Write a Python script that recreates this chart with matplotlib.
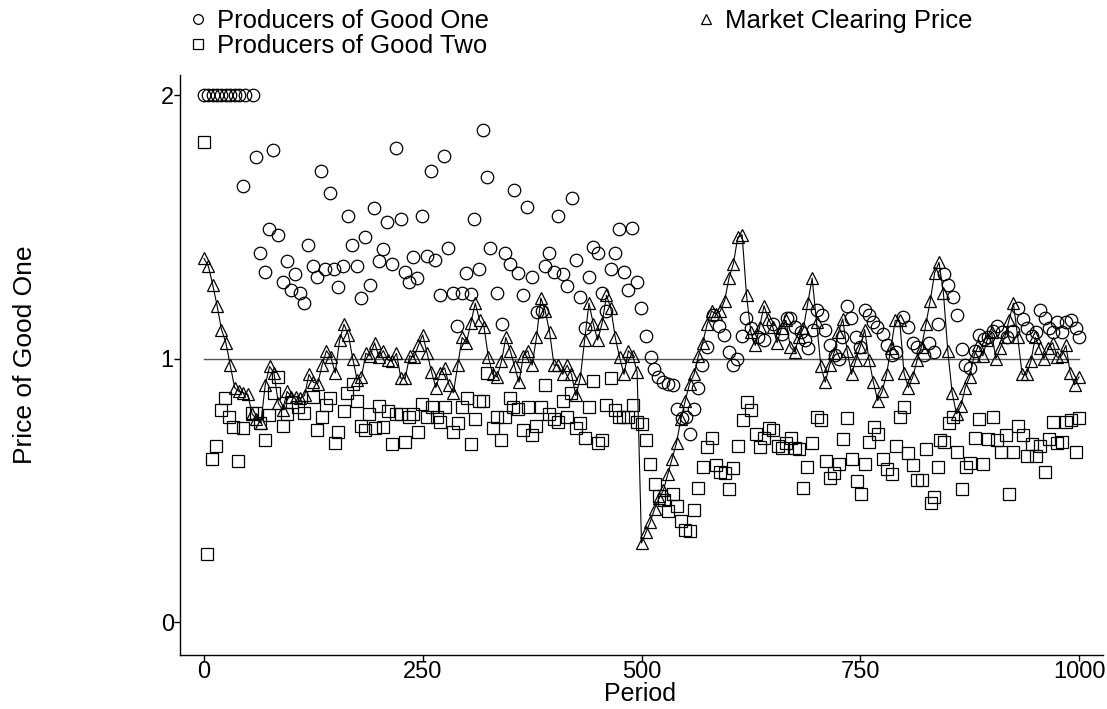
import matplotlib
matplotlib.use("Agg")
import matplotlib.pyplot as plt
from matplotlib.lines import Line2D

plt.rcParams['font.family'] = ['Liberation Sans', 'DejaVu Sans']

# market clearing price, recorded every 5 periods (0..1000)
market_period = list(range(0, 1001, 5))
market_price = [
    1.38, 1.35, 1.28, 1.20, 1.11, 1.06, 0.975, 0.89, 0.875, 0.87,
    0.865, 0.79, 0.77, 0.755, 0.90, 0.97, 0.945, 0.83, 0.805, 0.875,
    0.855, 0.855, 0.85, 0.86, 0.94, 0.91, 0.905, 0.975, 1.03, 1.005,
    0.945, 1.07, 1.13, 1.09, 1.00, 0.92, 0.93, 1.02, 1.01, 1.06,
    1.005, 1.03, 0.995, 0.99, 1.02, 0.925, 0.925, 1.01, 1.005, 1.05,
    1.09, 1.02, 0.95, 0.89, 0.945, 0.965, 0.90, 0.87, 0.975, 1.08,
    1.06, 1.135, 1.21, 1.145, 1.12, 1.005, 0.94, 0.93, 0.99, 1.08,
    1.03, 0.97, 0.91, 1.01, 1.03, 0.975, 1.08, 1.23, 1.18, 1.10,
    0.975, 0.975, 0.94, 0.975, 0.94, 0.86, 0.925, 1.07, 1.21, 1.13,
    1.07, 1.135, 1.24, 1.19, 1.08, 1.005, 0.94, 1.03, 1.01, 0.95,
    0.30, 0.34, 0.38, 0.43, 0.47, 0.50, 0.56, 0.62, 0.68, 0.77,
    0.84, 0.905, 0.94, 1.01, 1.06, 1.13, 1.18, 1.17, 1.18, 1.22,
    1.305, 1.36, 1.46, 1.47, 1.24, 1.10, 1.05, 1.12, 1.20, 1.15,
    1.12, 1.06, 1.115, 1.145, 1.045, 1.025, 1.08, 1.115, 1.21, 1.305,
    1.14, 0.97, 0.91, 0.975, 1.02, 1.10, 1.15, 1.03, 0.94, 0.995,
    1.045, 1.11, 0.995, 0.91, 0.84, 0.875, 0.94, 1.04, 1.145, 1.145,
    0.945, 0.89, 0.93, 0.995, 1.045, 1.13, 1.22, 1.325, 1.365, 1.25,
    1.03, 0.87, 0.79, 0.82, 0.89, 0.93, 1.01, 1.05, 1.01, 1.07,
    1.10, 1.00, 1.04, 1.08, 1.145, 1.21, 1.08, 0.94, 0.94, 0.99,
    1.08, 1.04, 1.00, 1.04, 1.06, 1.005, 1.01, 1.05, 0.945, 0.90,
    0.93,
]

# (period, price) for producers of good one
good_one = [
    (0, 2.0), (5, 2.0), (10, 2.0), (15, 2.0), (20, 2.0), (25, 2.0), (30, 2.0),
    (35, 2.0), (40, 2.0), (47, 2.0), (56, 2.0),
    (45, 1.655), (59, 1.765), (64, 1.40), (70, 1.33), (74, 1.49), (79, 1.79),
    (85, 1.47), (90, 1.29), (95, 1.37), (99, 1.26), (104, 1.32), (110, 1.25),
    (114, 1.21), (119, 1.43), (125, 1.35), (129, 1.31), (134, 1.71), (138, 1.34),
    (144, 1.63), (149, 1.34), (153, 1.27), (159, 1.35), (165, 1.54), (169, 1.43),
    (175, 1.35), (179, 1.23), (184, 1.46), (190, 1.28), (194, 1.57), (200, 1.37),
    (205, 1.415), (209, 1.52), (215, 1.36), (219, 1.80), (225, 1.53), (230, 1.33),
    (234, 1.29), (239, 1.385), (243, 1.305), (249, 1.54), (255, 1.39), (259, 1.71),
    (264, 1.375), (270, 1.24), (274, 1.77), (279, 1.42), (285, 1.25), (289, 1.125),
    (295, 1.25), (299, 1.325), (305, 1.245), (309, 1.53), (314, 1.34), (319, 1.867),
    (323, 1.69), (327, 1.42), (335, 1.25), (341, 1.13), (344, 1.40), (350, 1.36),
    (354, 1.64), (359, 1.325), (365, 1.24), (369, 1.575), (375, 1.31), (381, 1.175),
    (386, 1.18), (390, 1.35), (394, 1.40), (400, 1.33), (405, 1.54), (410, 1.32),
    (415, 1.275), (421, 1.61), (425, 1.375), (430, 1.235), (435, 1.115), (440, 1.31),
    (445, 1.425), (450, 1.40), (455, 1.25), (460, 1.18), (465, 1.34), (470, 1.40),
    (474, 1.49), (480, 1.33), (485, 1.26), (489, 1.495), (495, 1.29), (499, 1.19),
    (505, 1.085), (511, 1.005), (514, 0.96), (519, 0.93), (525, 0.91), (530, 0.905),
    (536, 0.90), (541, 0.81), (546, 0.775), (551, 0.78), (555, 0.715), (560, 0.81),
    (565, 0.89), (569, 0.975), (575, 1.045), (582, 1.165), (589, 1.125), (594, 1.09),
    (600, 1.025), (605, 0.975), (609, 1.00), (615, 1.085), (619, 1.155), (625, 1.115),
    (633, 1.08), (640, 1.07), (650, 1.13), (661, 1.095), (666, 1.155), (670, 1.155),
    (675, 1.12), (682, 1.10), (687, 1.07), (690, 1.04), (696, 1.11), (701, 1.185),
    (706, 1.165), (710, 1.11), (715, 1.05), (721, 1.015), (726, 1.00), (729, 1.08),
    (735, 1.20), (739, 1.155), (745, 1.08), (750, 1.045), (755, 1.185), (760, 1.165),
    (765, 1.14), (769, 1.12), (776, 1.095), (780, 1.05), (786, 1.015), (791, 1.025),
    (799, 1.157), (805, 1.12), (810, 1.06), (815, 1.045), (823, 1.015), (829, 1.06),
    (834, 1.025), (839, 1.13), (846, 1.32), (850, 1.28), (856, 1.235), (860, 1.165),
    (866, 1.035), (870, 0.975), (875, 0.965), (881, 1.03), (886, 1.09), (891, 1.075),
    (896, 1.08), (902, 1.105), (906, 1.125), (912, 1.10), (918, 1.08), (925, 1.105),
    (930, 1.19), (936, 1.15), (941, 1.115), (946, 1.085), (951, 1.10), (955, 1.185),
    (961, 1.155), (966, 1.115), (970, 1.10), (975, 1.14), (981, 1.10), (985, 1.14),
    (991, 1.145), (997, 1.115), (1000, 1.08),
]

# (period, price) for producers of good two
good_two = [
    (0, 1.82), (3, 0.26), (9, 0.62), (14, 0.67), (19, 0.805), (24, 0.85), (29, 0.78),
    (33, 0.74), (39, 0.61), (45, 0.735), (55, 0.795), (59, 0.795), (64, 0.755),
    (70, 0.69), (74, 0.785), (80, 0.87), (85, 0.93), (90, 0.745), (95, 0.79),
    (101, 0.835), (107, 0.815), (114, 0.795), (125, 0.855), (129, 0.73), (135, 0.78),
    (139, 0.825), (144, 0.85), (150, 0.68), (153, 0.72), (160, 0.80), (164, 0.87),
    (170, 0.905), (175, 0.84), (179, 0.745), (184, 0.73), (189, 0.79), (195, 0.735),
    (200, 0.82), (205, 0.74), (210, 0.80), (215, 0.675), (220, 0.79), (225, 0.79),
    (230, 0.685), (234, 0.78), (239, 0.79), (245, 0.72), (249, 0.827), (255, 0.78),
    (261, 0.815), (266, 0.78), (270, 0.76), (275, 0.815), (285, 0.72), (290, 0.755),
    (295, 0.815), (301, 0.85), (305, 0.675), (310, 0.77), (314, 0.84), (319, 0.84),
    (324, 0.945), (330, 0.735), (335, 0.78), (339, 0.69), (344, 0.78), (350, 0.85),
    (353, 0.815), (359, 0.81), (365, 0.73), (370, 0.815), (375, 0.71), (379, 0.745),
    (385, 0.815), (390, 0.90), (394, 0.79), (400, 0.77), (405, 0.76), (410, 0.84),
    (415, 0.78), (419, 0.87), (425, 0.735), (430, 0.755), (435, 0.70), (440, 0.815),
    (445, 0.915), (450, 0.68), (455, 0.69), (460, 0.825), (465, 0.925), (470, 0.805),
    (474, 0.78), (479, 0.78), (485, 0.78), (490, 0.825), (495, 0.76), (500, 0.75),
    (505, 0.69), (510, 0.60), (515, 0.525), (520, 0.48), (526, 0.465), (530, 0.42),
    (536, 0.485), (541, 0.44), (545, 0.385), (550, 0.35), (555, 0.345), (560, 0.425),
    (565, 0.51), (570, 0.59), (575, 0.665), (580, 0.70), (585, 0.595), (590, 0.57),
    (595, 0.565), (600, 0.505), (605, 0.585), (610, 0.67), (616, 0.765), (620, 0.835),
    (625, 0.805), (631, 0.715), (635, 0.665), (640, 0.70), (646, 0.735), (650, 0.73),
    (656, 0.67), (661, 0.66), (665, 0.68), (671, 0.70), (675, 0.66), (680, 0.655),
    (685, 0.51), (689, 0.59), (695, 0.68), (701, 0.78), (705, 0.765), (711, 0.61),
    (715, 0.545), (720, 0.565), (726, 0.60), (730, 0.695), (735, 0.775), (741, 0.62),
    (746, 0.535), (751, 0.485), (755, 0.60), (760, 0.685), (766, 0.74), (770, 0.715),
    (776, 0.62), (780, 0.58), (786, 0.56), (791, 0.67), (795, 0.78), (800, 0.815),
    (805, 0.64), (810, 0.595), (815, 0.54), (820, 0.54), (825, 0.655), (831, 0.45),
    (834, 0.475), (839, 0.59), (841, 0.69), (846, 0.685), (851, 0.755), (856, 0.78),
    (861, 0.645), (866, 0.505), (871, 0.59), (875, 0.605), (881, 0.70), (886, 0.77),
    (890, 0.60), (896, 0.695), (902, 0.78), (906, 0.69), (911, 0.645), (916, 0.71),
    (920, 0.485), (925, 0.645), (930, 0.745), (936, 0.71), (941, 0.63), (946, 0.675),
    (951, 0.63), (955, 0.67), (961, 0.57), (966, 0.695), (970, 0.76), (975, 0.68),
    (981, 0.685), (985, 0.76), (991, 0.765), (997, 0.645), (1000, 0.775),
]

x_ticks = [0, 250, 500, 750, 1000]
y_ticks = [0, 1, 2]

W, H = 1107, 709
fig = plt.figure(figsize=(W / 100, H / 100), dpi=100)
ax = fig.add_axes([180 / W, 54 / H, 923 / W, 580 / H])

mk = dict(markerfacecolor='none', markeredgecolor='black', markeredgewidth=0.9,
          linestyle='none')

# reference level at a price of one
ax.plot([0, 1000], [1, 1], color='#555555', lw=1.0, zorder=1)

g1_x, g1_y = zip(*good_one)
g2_x, g2_y = zip(*good_two)
ax.plot(g1_x, g1_y, marker='o', markersize=9, **mk)
ax.plot(g2_x, g2_y, marker='s', markersize=8.5, **mk)
ax.plot(market_period, market_price, color='black', lw=0.8, marker='^',
        markersize=9, markerfacecolor='none', markeredgecolor='black',
        markeredgewidth=0.9)

ax.set_xlim(-27.4, 1027.4)
ax.set_ylim(-0.125, 2.076)
ax.set_xticks(x_ticks)
ax.set_yticks(y_ticks)
ax.tick_params(direction='out', length=4, width=1, labelsize=17, pad=0.5)
for side in ('top', 'right'):
    ax.spines[side].set_visible(False)
for side in ('left', 'bottom'):
    ax.spines[side].set_linewidth(1.0)

fig.text(25 / W, 1 - 355 / H, 'Price of Good One', rotation=90,
         ha='center', va='center', fontsize=19)
fig.text(640 / W, 1 - 694 / H, 'Period', ha='center', va='center', fontsize=18)

leg_mk = dict(markerfacecolor='none', markeredgecolor='black',
              markeredgewidth=0.9, linestyle='none', markersize=7)
handles = [Line2D([], [], marker='o', **leg_mk),
           Line2D([], [], marker='s', **leg_mk),
           Line2D([], [], marker='^', **leg_mk)]
labels = ['Producers of Good One', 'Producers of Good Two', 'Market Clearing Price']
fig.legend(handles, labels, ncol=2, loc='upper left',
           bbox_to_anchor=(186 / W, 1 - 9 / H), frameon=False, fontsize=18.5,
           handlelength=0.9, handletextpad=0.3, columnspacing=8.0,
           labelspacing=0.05, borderpad=0, borderaxespad=0)

fig.savefig('out.png', dpi=100)
